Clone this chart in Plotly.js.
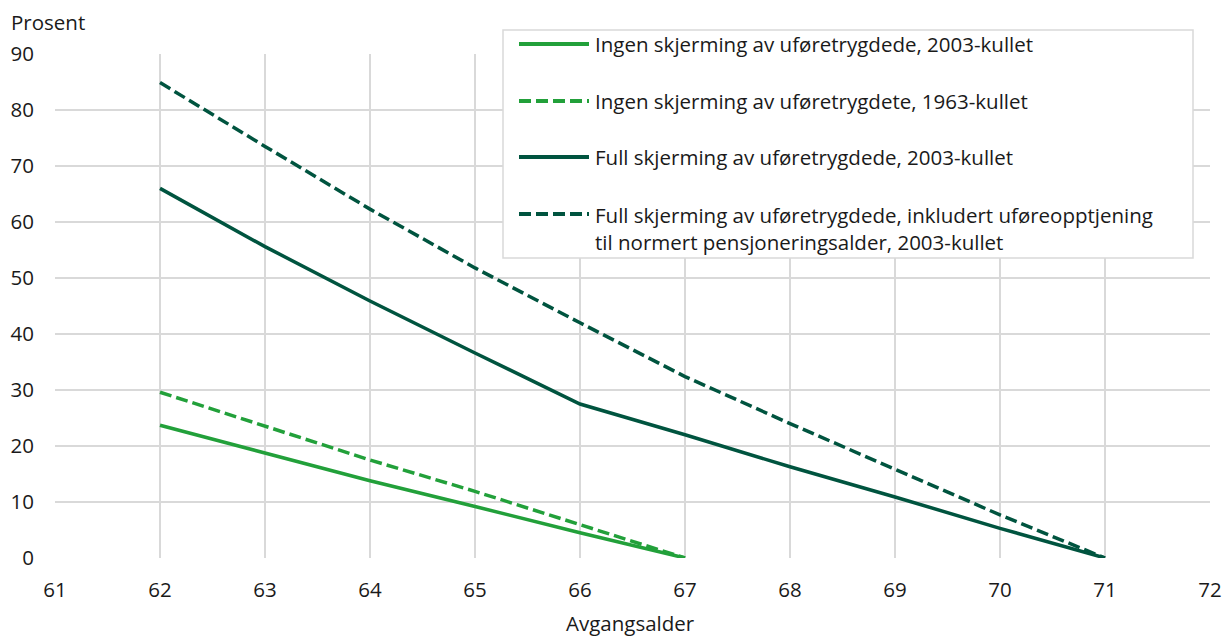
<!DOCTYPE html>
<html>
<head>
<meta charset="utf-8">
<script src="https://cdn.plot.ly/plotly-3.0.1.min.js"></script>
<style>html,body{margin:0;padding:0;background:#fff;}#chart{width:1226px;height:636px;}</style>
</head>
<body>
<div id="chart"></div>
<script>
const ages = [62, 63, 64, 65, 66, 67, 68, 69, 70, 71];
const ingen2003 = [23.7, 18.7, 13.8, 9.2, 4.5, 0];
const ingen1963 = [29.6, 23.5, 17.5, 11.9, 5.9, 0];
const full2003 = [66.0, 55.6, 45.9, 36.6, 27.5, 22.0, 16.3, 10.9, 5.3, 0];
const fullInkl2003 = [84.9, 73.5, 62.3, 51.8, 42.0, 32.4, 24.0, 15.9, 7.7, 0];
const seriesNames = [
  "Ingen skjerming av uføretrygdede, 2003-kullet",
  "Ingen skjerming av uføretrygdete, 1963-kullet",
  "Full skjerming av uføretrygdede, 2003-kullet",
  "Full skjerming av uføretrygdede, inkludert uføreopptjening<br>til normert pensjoneringsalder, 2003-kullet"
];
const xTicks = [61, 62, 63, 64, 65, 66, 67, 68, 69, 70, 71, 72];
const yTicks = [0, 10, 20, 30, 40, 50, 60, 70, 80, 90];

const LIGHT = "#22a03a", DARK = "#00543f";
const DASH = "12px,5px";
const W = 1226, H = 636, L = 55, R = 16, T = 54, B = 78;
const pw = W - L - R, ph = H - T - B;
const px = x => (x - L) / pw;
const py = y => (H - B - y) / ph;

const styles = [
  {color: LIGHT, dash: "solid"},
  {color: LIGHT, dash: DASH},
  {color: DARK, dash: "solid"},
  {color: DARK, dash: DASH}
];
const ys = [ingen2003, ingen1963, full2003, fullInkl2003];

const traces = ys.map((v, i) => ({
  x: ages.slice(0, v.length),
  y: v,
  type: "scatter",
  mode: "lines",
  name: seriesNames[i],
  line: {color: styles[i].color, width: 3.5, dash: styles[i].dash},
  showlegend: false,
  hoverinfo: "x+y"
}));

const font = {family: "'Open Sans', 'Noto Sans', sans-serif", size: 20.5, color: "#1a1a1a"};

const shapes = [{
  type: "rect", xref: "paper", yref: "paper",
  x0: px(503), x1: px(1193), y0: py(258), y1: py(30),
  line: {color: "#d9d9d9", width: 1.5}, fillcolor: "#ffffff", layer: "above"
}];
const annotations = [];
const legendY = [44, 101, 157, 214];
legendY.forEach((yy, i) => {
  shapes.push({
    type: "line", xref: "paper", yref: "paper",
    x0: px(519), x1: px(589), y0: py(yy), y1: py(yy),
    line: {color: styles[i].color, width: 4, dash: styles[i].dash}, layer: "above"
  });
  annotations.push({
    xref: "paper", yref: "paper", x: px(593), y: py(yy),
    xanchor: "left", yanchor: i === 3 ? "top" : "middle",
    yshift: i === 3 ? 15 : 0,
    text: seriesNames[i], showarrow: false, align: "left", font: font
  });
});
annotations.push({
  xref: "paper", yref: "paper", x: px(9), y: py(22), xanchor: "left", yanchor: "middle",
  text: "Prosent", showarrow: false, font: font
});
annotations.push({
  xref: "paper", yref: "paper", x: px(630), y: py(623), xanchor: "center", yanchor: "middle",
  text: "Avgangsalder", showarrow: false, font: font
});

const layout = {
  width: W, height: H,
  margin: {l: L, r: R, t: T, b: B, pad: 0},
  paper_bgcolor: "#ffffff", plot_bgcolor: "#ffffff",
  font: font,
  showlegend: false,
  xaxis: {
    range: [61, 72], tickvals: xTicks, ticktext: xTicks.map(String),
    showgrid: true, gridcolor: "#d9d9d9", gridwidth: 1.5,
    zeroline: false, showline: false, ticks: "", ticklabelstandoff: 17,
    tickfont: font, fixedrange: true
  },
  yaxis: {
    range: [0, 90], tickvals: yTicks, ticktext: yTicks.map(String),
    showgrid: true, gridcolor: "#d9d9d9", gridwidth: 1.5,
    zeroline: false, showline: false, ticks: "", ticklabelstandoff: 20,
    tickfont: font, fixedrange: true
  },
  shapes: shapes,
  annotations: annotations
};

Plotly.newPlot("chart", traces, layout, {displayModeBar: false, staticPlot: true});
</script>
</body>
</html>
